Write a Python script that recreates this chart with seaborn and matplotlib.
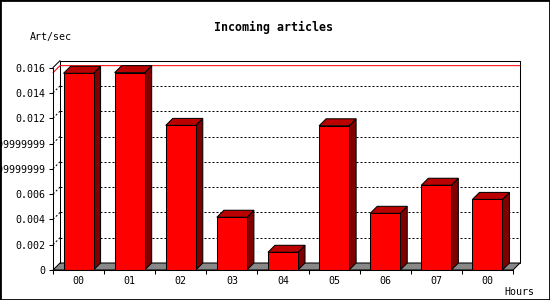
import numpy as np
import matplotlib
matplotlib.use("Agg")
import matplotlib.pyplot as plt
import seaborn as sns
from matplotlib.patches import Polygon, Rectangle

# ---- data ----
hours = ["00", "01", "02", "03", "04", "05", "06", "07", "00"]
rates = [0.01555, 0.0156, 0.01143, 0.00417, 0.00140, 0.01140, 0.00448, 0.00670, 0.00558]
y_ticks = [0, 0.002, 0.004, 0.006, 0.008, 0.010, 0.012, 0.014, 0.016]
y_tick_labels = ["0", "0.002", "0.004", "0.006", "0.0079999999999999",
                 "0.0099999999999999", "0.012", "0.014", "0.016"]
title = "Incoming articles"
y_label = "Art/sec"
x_label = "Hours"

sns.set_theme(style="white")
plt.rcParams['font.family'] = ['DejaVu Sans Mono']

W, H = 550, 300
fig = plt.figure(figsize=(5.5, 3), dpi=100)
fig.patch.set_facecolor("white")
ax_left, ax_right, ax_bottom, ax_top = 53, 513, 270, 67.6
ax = fig.add_axes([ax_left / W, 1 - ax_bottom / H,
                   (ax_right - ax_left) / W, (ax_bottom - ax_top) / H])
ax.patch.set_visible(False)
n = len(rates)

sns.barplot(x=list(range(n)), y=rates, color="#ff0000", saturation=1,
            width=0.587, edgecolor="black", linewidth=0.75, ax=ax, zorder=4)

ax.set_xlim(-0.5, n - 0.5)
ax.set_ylim(0, 0.016)
ax.set_xlabel("")
ax.set_ylabel("")

ppx = n / (ax_right - ax_left)
ppy = 0.016 / (ax_bottom - ax_top)
dx = 7 * ppx
dy = 7 * ppy
x0, x1 = -0.5, n - 0.5
ytop = y_ticks[-1]
LW = 0.75

# floor
ax.add_patch(Polygon([(x0, 0), (x1, 0), (x1 + dx, dy), (x0 + dx, dy)], closed=True,
                     facecolor="#888888", edgecolor="black", lw=LW, clip_on=False, zorder=1))
# back plane outline
ax.plot([x0 + dx, x0 + dx, x1 + dx, x1 + dx], [dy, ytop + dy, ytop + dy, dy],
        color="black", lw=LW, clip_on=False, zorder=1)
ax.plot([x0, x0 + dx], [ytop, ytop + dy], color="black", lw=LW, clip_on=False, zorder=1)
# gridlines
for v in y_ticks[1:-1]:
    ax.plot([x0 + dx, x1 + dx], [v + dy, v + dy], color="black", lw=0.72,
            linestyle=(0, (2, 2)), clip_on=False, zorder=1)
    ax.plot([x0, x0 + dx], [v, v + dy], color="black", lw=0.72,
            linestyle=(0, (2, 2)), clip_on=False, zorder=1)
# red max line
vmax = max(rates)
ax.plot([x0, x0 + dx, x1 + dx], [vmax, vmax + dy, vmax + dy], color="#ff0000",
        lw=LW, clip_on=False, zorder=2)

# 3D faces of bars
for p in list(ax.patches):
    if isinstance(p, Polygon):
        continue
    bx, bw, bh = p.get_x(), p.get_width(), p.get_height()
    if bh <= 0:
        continue
    side = Polygon([(bx + bw, 0), (bx + bw + dx, dy), (bx + bw + dx, bh + dy), (bx + bw, bh)],
                   closed=True, facecolor="#800000", edgecolor="black", lw=LW,
                   clip_on=False, zorder=3)
    top = Polygon([(bx, bh), (bx + bw, bh), (bx + bw + dx, bh + dy), (bx + dx, bh + dy)],
                  closed=True, facecolor="#bb0000", edgecolor="black", lw=LW,
                  clip_on=False, zorder=3)
    ax.add_patch(side)
    ax.add_patch(top)

# spines
for s in ["top", "right"]:
    ax.spines[s].set_visible(False)
for s in ["left", "bottom"]:
    ax.spines[s].set_visible(True)
    ax.spines[s].set_color("black")
    ax.spines[s].set_linewidth(LW)
    ax.spines[s].set_zorder(5)

ax.set_yticks(y_ticks, y_tick_labels)
ax.tick_params(axis="y", left=True, length=2.9, width=LW, pad=2.9,
               labelsize=7.2, direction="out", color="black", labelcolor="black")
ax.set_xticks(range(n), hours)
ax.tick_params(axis="x", which="major", bottom=True, length=0, pad=4.5,
               labelsize=7.2, labelcolor="black")
ax.set_xticks(np.arange(n + 1) - 0.5, minor=True)
ax.tick_params(axis="x", which="minor", bottom=True, length=3, width=LW,
               direction="out", color="black")

fig.text(273.5 / W, 1 - 27 / H, title, ha="center", va="center",
         fontweight="bold", fontsize=8.4, color="black")
fig.text(30 / W, 1 - 37 / H, y_label, ha="left", va="center", fontsize=7.2, color="black")
fig.text(534 / W, 1 - 292 / H, x_label, ha="right", va="center", fontsize=7.2, color="black")

fig.add_artist(Rectangle((0, 0), 1, 1, transform=fig.transFigure, fill=False,
                         edgecolor="black", lw=2))

fig.savefig("out.png", dpi=100)
